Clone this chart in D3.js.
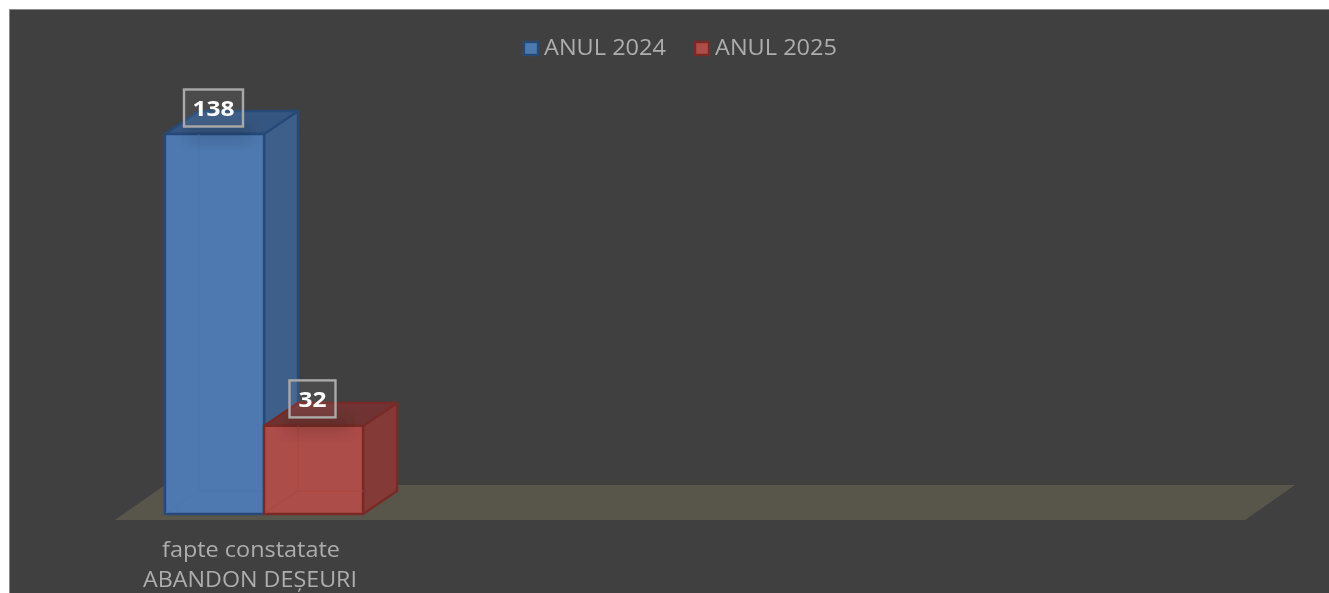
<!DOCTYPE html>
<html><head><meta charset="utf-8">
<script src="https://cdn.jsdelivr.net/npm/d3@7/dist/d3.min.js"></script>
<style>html,body{margin:0;padding:0;background:#fff;overflow:hidden}svg{display:block}text{font-family:"Open Sans","Noto Sans",sans-serif}</style>
</head><body><svg id="c" width="1329" height="593"></svg>
<script>
const seriesNames=["ANUL 2024","ANUL 2025"];
const seriesValues=[138,32];
const categoryLines=["fapte constatate","ABANDON DEȘEURI"];
const seriesColors=[
 {front:"#4e79b0",side:"#3e5f8a",top:"#365680",stroke:"#264a78",floor:"#4a76ad"},
 {front:"#ad4d49",side:"#843b38",top:"#6f3331",stroke:"#772a27",floor:"#a9463f"}];

const svg=d3.select("#c");
const x=d3.scaleBand().domain(seriesNames).range([165,363]);
const y=d3.scaleLinear().domain([0,138]).range([514,134]);
const dx=34,dy=-23;
const line=d3.line();

const defs=svg.append("defs");
defs.append("filter").attr("id","soft").attr("x","-5%").attr("y","-5%").attr("width","110%").attr("height","110%")
  .append("feGaussianBlur").attr("stdDeviation",0.6);
defs.append("filter").attr("id","shadow").attr("x","-50%").attr("y","-50%").attr("width","200%").attr("height","200%")
  .append("feGaussianBlur").attr("stdDeviation",7);

svg.append("rect").attr("x",9.5).attr("y",9.5).attr("width",1330).attr("height",600)
  .attr("fill","#404040").attr("stroke","#8a8a8a").attr("stroke-width",1);

const root=svg.append("g").attr("filter","url(#soft)");

root.append("path").attr("fill","#59564c")
  .attr("d",line([[115,520],[1245,520],[1295,485],[165,485]])+"Z");

seriesNames.forEach((name,i)=>{
  const c=seriesColors[i],x0=x(name),x1=x0+x.bandwidth(),y0=y(0),yt=y(seriesValues[i]);
  const g=root.append("g").attr("stroke",c.stroke).attr("stroke-width",2.4).attr("stroke-linejoin","round");
  g.append("path").attr("fill",c.side).attr("d",line([[x1,y0],[x1+dx,y0+dy],[x1+dx,yt+dy],[x1,yt]])+"Z");
  g.append("path").attr("fill",c.top).attr("d",line([[x0,yt],[x1,yt],[x1+dx,yt+dy],[x0+dx,yt+dy]])+"Z");
  g.append("path").attr("fill",c.front).attr("d",line([[x0,y0],[x1,y0],[x1,yt],[x0,yt]])+"Z");
  const inner=root.append("g").attr("fill","none").attr("stroke",c.floor).attr("stroke-width",1);
  inner.append("path").attr("d",line([[x0+dx,yt],[x0+dx,y0+dy],[x1,y0+dy]]));
  inner.append("path").attr("d",line([[x0+1,y0-1],[x0+dx,y0+dy]]));
  root.append("rect").attr("x",x0+22).attr("y",yt-8).attr("width",x.bandwidth()-34).attr("height",16)
    .attr("fill","#000").attr("opacity",0.12).attr("filter","url(#shadow)");
});

const labelW=[59,46],labelTextW=[42,28],labelOff=[-1,-1];
seriesNames.forEach((name,i)=>{
  const cx=x(name)+x.bandwidth()/2+labelOff[i],yt=y(seriesValues[i]),w=labelW[i];
  const yc=yt-(i?27:26);
  root.append("rect").attr("x",cx-w/2).attr("y",yc-18.5).attr("width",w).attr("height",37)
    .attr("fill","#fff").attr("fill-opacity",0.06).attr("stroke","#a9a9a9").attr("stroke-width",2.4);
  root.append("text").attr("x",cx).attr("y",yc+8).attr("text-anchor","middle")
    .attr("font-size",22).attr("font-weight",700).attr("fill","#fff")
    .attr("textLength",labelTextW[i]).attr("lengthAdjust","spacingAndGlyphs").text(seriesValues[i]);
});

const catW=[178,214];
categoryLines.forEach((t,i)=>{
  root.append("text").attr("x",i?250:251).attr("y",557+i*30).attr("text-anchor","middle")
    .attr("font-size",21).attr("fill","#adadad")
    .attr("textLength",catW[i]).attr("lengthAdjust","spacingAndGlyphs").text(t);
});

const legendX=[524,695];
seriesNames.forEach((name,i)=>{
  root.append("rect").attr("x",legendX[i]).attr("y",42).attr("width",14).attr("height",13)
    .attr("fill",seriesColors[i].front).attr("stroke",seriesColors[i].stroke).attr("stroke-width",2.4);
  root.append("text").attr("x",legendX[i]+20).attr("y",55).attr("font-size",21)
    .attr("fill","#adadad").attr("textLength",122).attr("lengthAdjust","spacingAndGlyphs").text(name);
});
</script></body></html>
